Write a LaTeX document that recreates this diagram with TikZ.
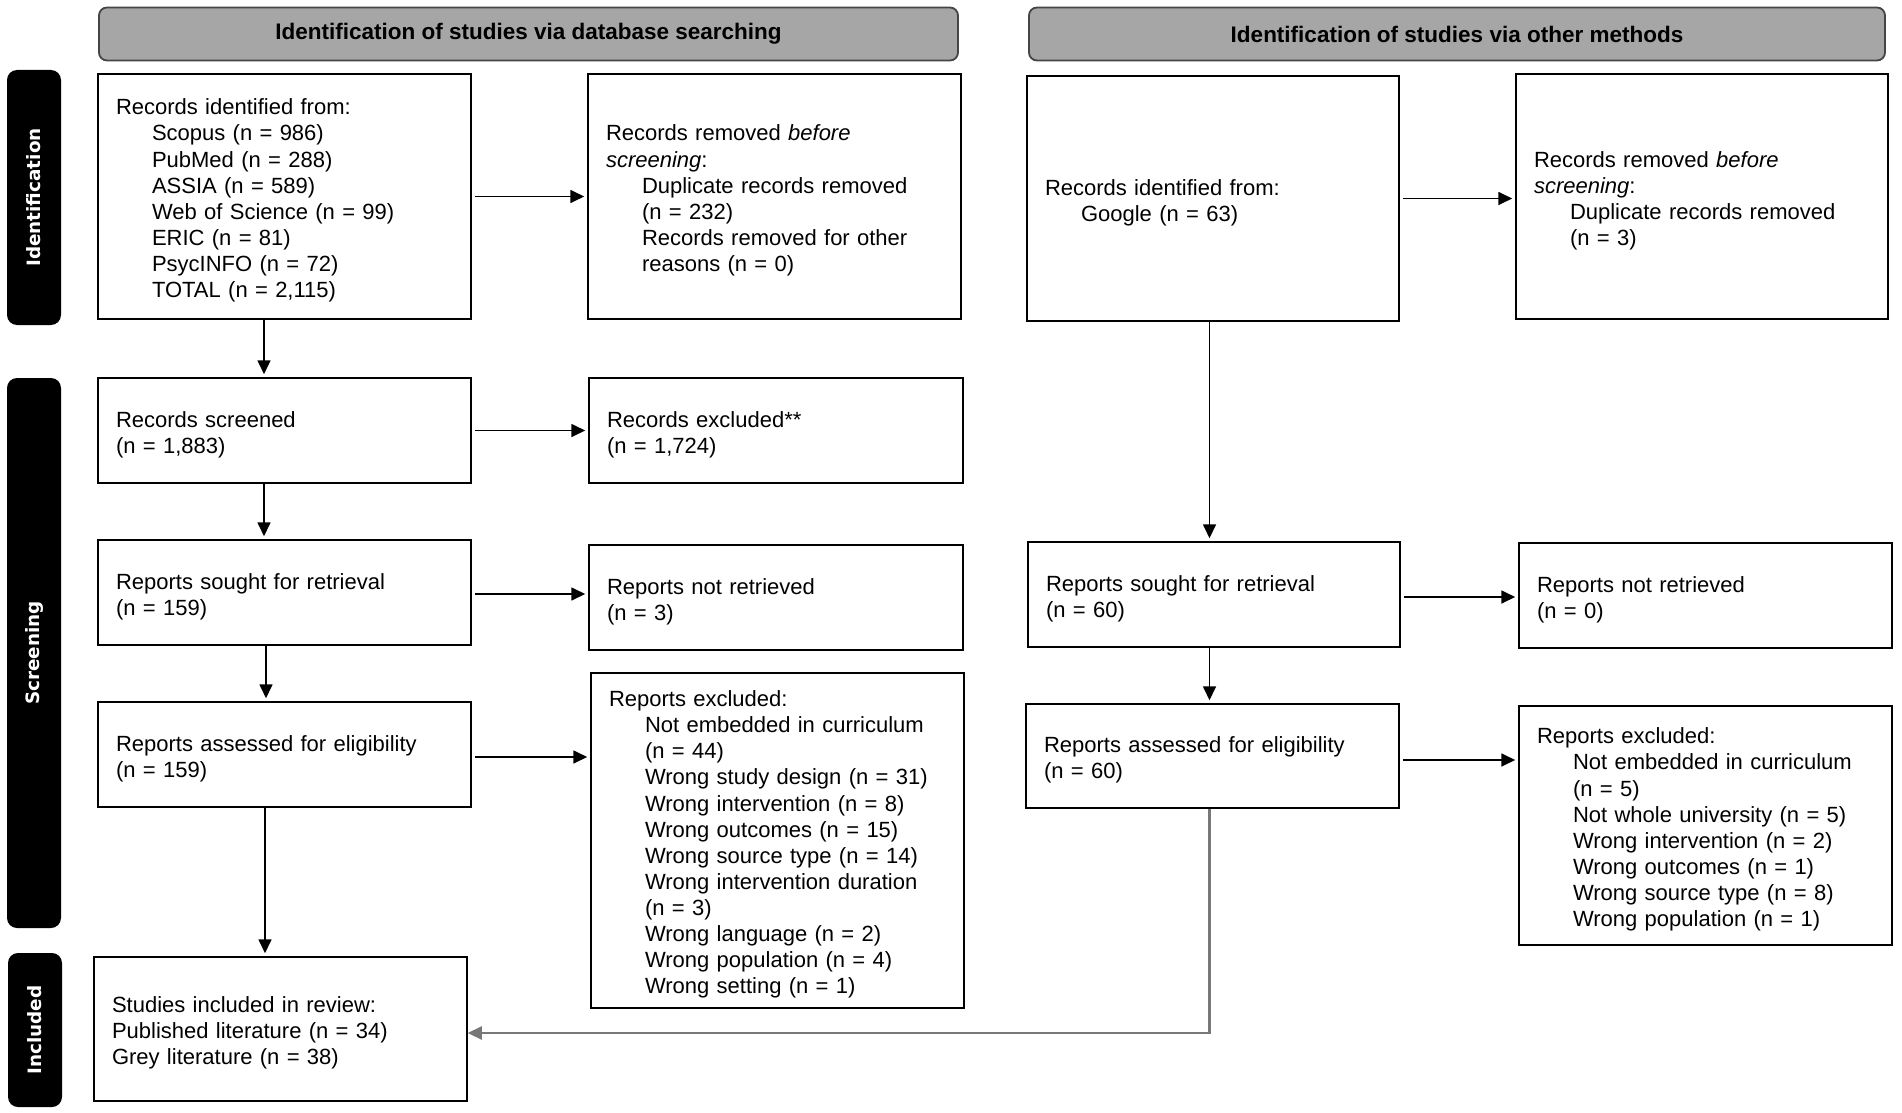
\documentclass[tikz,border=0pt]{standalone}
\usepackage{fontspec}
\setmainfont{Liberation Sans}
\newfontfamily\lblfont{DejaVu Sans}
\usetikzlibrary{arrows.meta}
\definecolor{hdrfill}{HTML}{A6A6A6}
\definecolor{hdrdraw}{HTML}{454545}
\definecolor{grayline}{HTML}{787878}
\newcommand{\indt}{\hspace*{18pt}}
\newcommand{\tp}{\rule{0pt}{12pt}}
\tikzset{
  box/.style={draw=black, line width=0.75pt, fill=white, align=left,
    inner xsep=9pt, inner ysep=0pt, font=\fontsize{11}{13.05}\selectfont},
  hdr/.style={draw=hdrdraw, line width=0.9pt, fill=hdrfill, rounded corners=4pt,
    minimum height=26.5pt, font=\bfseries\fontsize{11.25}{13}\selectfont},
  sidelbl/.style={fill=black, draw=none, rounded corners=5pt, rotate=90,
    minimum height=27pt, text=white, font=\lblfont\bfseries\fontsize{9.2}{11}\selectfont},
  arr/.style={-{Triangle[length=7pt,width=6.5pt]}, line width=0.85pt, shorten >=1.5pt},
  harr/.style={arr, shorten <=1.5pt},
  grayarr/.style={-{Triangle[length=7pt,width=6.5pt]}, draw=grayline, line width=1.1pt}
}
\begin{document}
\begin{tikzpicture}[x=0.5pt,y=-0.5pt]
\useasboundingbox (0,0) rectangle (1902,1113);
% headers
\node[hdr, minimum width=429.5pt] (h1) at (528.5,34) {Identification of studies via database searching};
\node[hdr, minimum width=428pt] (h2) at (1457,34) {Identification of studies via other methods};
% side labels
\node[sidelbl, minimum width=127.5pt] (sid) at (34,197.5) {Identification};
\node[sidelbl, minimum width=275pt] (sscr) at (34,653) {Screening};
\node[sidelbl, minimum width=77pt] (sinc) at (35,1030) {Included};
% left column
\node[box, minimum width=186.5pt, text width=168.5pt, minimum height=122.5pt] (A) at (284.5,196.5)
 {\tp Records identified from:\\ \indt Scopus (n = 986)\\ \indt PubMed (n = 288)\\ \indt ASSIA (n = 589)\\ \indt Web of Science (n = 99)\\ \indt ERIC (n = 81)\\ \indt PsycINFO (n = 72)\\ \indt TOTAL (n = 2,115)};
\node[box, minimum width=186.5pt, text width=168.5pt, minimum height=122.5pt] (B) at (774.5,196.5)
 {\tp Records removed \textit{before}\\ \textit{screening}:\\ \indt Duplicate records removed\\ \indt (n = 232)\\ \indt Records removed for other\\ \indt reasons (n = 0)};
\node[box, minimum width=186.5pt, text width=168.5pt, minimum height=52.5pt] (E) at (284.5,430.5)
 {\tp Records screened\\ (n = 1,883)};
\node[box, minimum width=187pt, text width=169pt, minimum height=52.5pt] (F) at (776,430.5)
 {\tp Records excluded**\\ (n = 1,724)};
\node[box, minimum width=186.5pt, text width=168.5pt, minimum height=52.5pt] (G) at (284.5,592.5)
 {\tp Reports sought for retrieval\\ (n = 159)};
\node[box, minimum width=187pt, text width=169pt, minimum height=52.5pt] (H) at (776,597.5)
 {\tp Reports not retrieved\\ (n = 3)};
\node[box, minimum width=186.5pt, text width=168.5pt, minimum height=52.5pt] (I) at (284.5,754.5)
 {\tp Reports assessed for eligibility\\ (n = 159)};
\node[box, minimum width=186.5pt, text width=168.5pt, minimum height=167.5pt] (J) at (777.5,840.5)
 {\tp Reports excluded:\\ \indt Not embedded in curriculum\\ \indt (n = 44)\\ \indt Wrong study design (n = 31)\\ \indt Wrong intervention (n = 8)\\ \indt Wrong outcomes (n = 15)\\ \indt Wrong source type (n = 14)\\ \indt Wrong intervention duration\\ \indt (n = 3)\\ \indt Wrong language (n = 2)\\ \indt Wrong population (n = 4)\\ \indt Wrong setting (n = 1)};
\node[box, minimum width=186.5pt, text width=168.5pt, minimum height=72pt] (O) at (280.5,1029)
 {\tp Studies included in review:\\ Published literature (n = 34)\\ Grey literature (n = 38)};
% right column
\node[box, minimum width=186pt, text width=168pt, minimum height=122.5pt] (C) at (1213,198.5)
 {\tp Records identified from:\\ \indt Google (n = 63)};
\node[box, minimum width=186pt, text width=168pt, minimum height=122.5pt] (D) at (1702,196.5)
 {\tp Records removed \textit{before}\\ \textit{screening}:\\ \indt Duplicate records removed\\ \indt (n = 3)};
\node[box, minimum width=186pt, text width=168pt, minimum height=52.5pt] (K) at (1214,594.5)
 {\tp Reports sought for retrieval\\ (n = 60)};
\node[box, minimum width=186.5pt, text width=168.5pt, minimum height=52.5pt] (L) at (1705.5,595.5)
 {\tp Reports not retrieved\\ (n = 0)};
\node[box, minimum width=186.5pt, text width=168.5pt, minimum height=52pt] (M) at (1212.5,756)
 {\tp Reports assessed for eligibility\\ (n = 60)};
\node[box, minimum width=186.5pt, text width=168.5pt, minimum height=119.5pt] (N) at (1705.5,825.5)
 {\tp Reports excluded:\\ \indt Not embedded in curriculum\\ \indt (n = 5)\\ \indt Not whole university (n = 5)\\ \indt Wrong intervention (n = 2)\\ \indt Wrong outcomes (n = 1)\\ \indt Wrong source type (n = 8)\\ \indt Wrong population (n = 1)};
% guide coordinates
\coordinate (lx) at (264,0);
\coordinate (rx) at (1209.5,0);
\coordinate (turn) at (1209.5,1033);
% horizontal arrows
\draw[harr] (A.east) -- (A.east -| B.west);
\draw[harr] (E.east) -- (E.east -| F.west);
\draw[harr] ([yshift=-0.75pt]G.east) -- ([yshift=-0.75pt]G.east -| H.west);
\draw[harr] ([yshift=-1.25pt]I.east) -- ([yshift=-1.25pt]I.east -| J.west);
\draw[harr] (C.east) -- (C.east -| D.west);
\draw[harr] ([yshift=-1.25pt]K.east) -- ([yshift=-1.25pt]K.east -| L.west);
\draw[harr] ([yshift=-2pt]M.east) -- ([yshift=-2pt]M.east -| N.west);
% vertical arrows
\draw[arr] (A.south -| lx) -- (E.north -| lx);
\draw[arr] (E.south -| lx) -- (G.north -| lx);
\draw[arr] ([xshift=1pt]G.south -| lx) -- ([xshift=1pt]I.north -| lx);
\draw[arr] ([xshift=0.5pt]I.south -| lx) -- ([xshift=0.5pt]O.north -| lx);
\draw[arr] (C.south -| rx) -- (K.north -| rx);
\draw[arr] (K.south -| rx) -- (M.north -| rx);
\draw[grayarr] (M.south -| rx) -- (turn) -- (turn -| O.east);
\end{tikzpicture}
\end{document}
